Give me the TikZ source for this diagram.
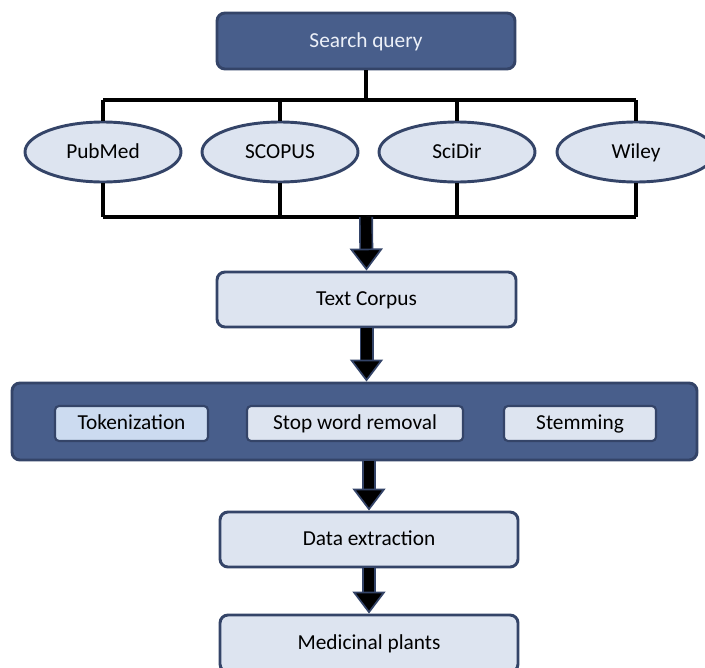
\documentclass[tikz,border=0pt]{standalone}
\usepackage{fontspec}
\setmainfont{Carlito}
\usetikzlibrary{arrows.meta}
\usetikzlibrary{shapes}

\begin{document}
\begin{tikzpicture}[x=0.75pt,y=0.75pt,yscale=-1,xscale=1,
  darkbox/.style={draw={rgb, 255:red, 52; green, 68; blue, 104 }, line width=2.2pt, fill={rgb, 255:red, 72; green, 94; blue, 139 }, rounded corners=6pt, inner sep=0pt, text height=12.5pt, text depth=3pt},
  lightbox/.style={draw={rgb, 255:red, 52; green, 68; blue, 104 }, line width=2.2pt, fill={rgb, 255:red, 221; green, 228; blue, 240 }, rounded corners=6pt, inner sep=0pt, font=\fontsize{16}{19}\selectfont, text height=12.5pt, text depth=3pt},
  stepbox/.style={lightbox, line width=1.6pt, rounded corners=3pt, minimum height=26.25pt},
  dbnode/.style={ellipse, draw={rgb, 255:red, 52; green, 68; blue, 104 }, line width=2.2pt, fill={rgb, 255:red, 221; green, 228; blue, 240 }, minimum width=117pt, minimum height=45pt, inner sep=0pt, font=\fontsize{16}{19}\selectfont, text height=12.5pt, text depth=3pt},
  treeline/.style={line width=2.5pt, black},
  bigarrow/.style={line width=8pt, black, preaction={draw={rgb, 255:red, 52; green, 68; blue, 104 }, line width=10.5pt, -, shorten >=15pt},
    -{Triangle[width=24.75pt,length=16.5pt,fill=black,color={rgb, 255:red, 52; green, 68; blue, 104 },line width=1.3pt]}}]
\useasboundingbox (0,0) rectangle (705,667);
\clip (0,0) rectangle (705,667);

%Rounded Rect: search query
\node [darkbox, minimum width=223.5pt, minimum height=42pt, text={rgb, 255:red, 236; green, 240; blue, 248 }, font=\fontsize{16}{19}\selectfont] (query) at (366,41) {Search query};

%Ellipses: databases
\node [dbnode] (pubmed) at (103,152) {PubMed};
\node [dbnode] (scopus) at (280,152) {SCOPUS};
\node [dbnode] (scidir) at (457,152) {SciDir};
\node [dbnode, minimum width=118.5pt] (wiley) at (636,152) {Wiley};

%Straight Lines: tree above and below the databases
\coordinate (bartop) at (366,100);
\coordinate (barbot) at (366,217);
\draw [treeline] (query.south) -- (bartop);
\draw [treeline] (pubmed.north |- bartop) -- (wiley.north |- bartop);
\draw [treeline] (pubmed.south |- barbot) -- (wiley.south |- barbot);
\foreach \db in {pubmed,scopus,scidir,wiley}{
  \draw [treeline] (\db.north |- bartop) -- (\db.north);
  \draw [treeline] (\db.south) -- (\db.south |- barbot);
}

%Rounded Rect: text corpus
\node [lightbox, minimum width=224.25pt, minimum height=41.25pt] (corpus) at (366.5,299.5) {Text Corpus};

%Rounded Rect: preprocessing
\node [darkbox, minimum width=513.75pt, minimum height=57.75pt] (prep) at (354.5,421.5) {};
\node [stepbox, minimum width=114.75pt, fill={rgb, 255:red, 204; green, 219; blue, 240 }] (token) at (131.5,423.5) {Tokenization};
\node [stepbox, minimum width=162pt] (stopword) at (355,423.5) {Stop word removal};
\node [stepbox, minimum width=114pt] (stem) at (580,423.5) {Stemming};

%Rounded Rect: data extraction and result
\node [lightbox, minimum width=223.5pt, minimum height=41.25pt] (extract) at (369,539.5) {Data extraction};
\node [lightbox, minimum width=223.5pt, minimum height=42.75pt] (plants) at (369,643.5) {Medicinal plants};

%Block arrows
\draw [bigarrow] (barbot) -- (corpus.north);
\draw [bigarrow] (corpus.south) -- (corpus.south |- prep.north);
\draw [bigarrow] (prep.south -| extract.north) -- (extract.north);
\draw [bigarrow] (extract.south) -- (plants.north);

\end{tikzpicture}
\end{document}
